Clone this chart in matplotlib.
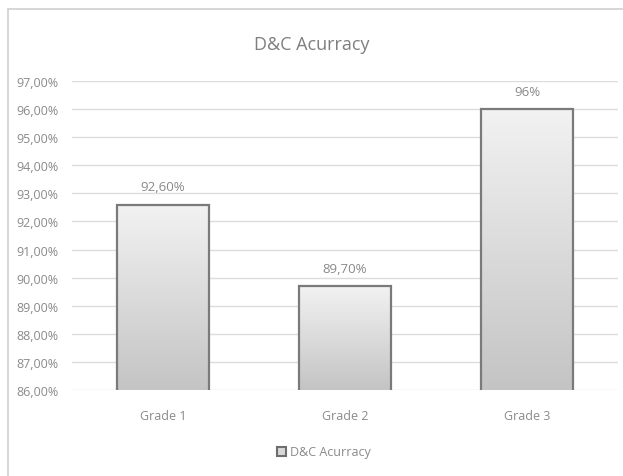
import numpy as np
import matplotlib.pyplot as plt
from matplotlib.patches import Rectangle
from matplotlib.ticker import FuncFormatter

categories = ["Grade 1", "Grade 2", "Grade 3"]
values = [92.6, 89.7, 96.0]
value_labels = ["92,60%", "89,70%", "96%"]
series_name = "D&C Acurracy"

plt.rcParams['font.family'] = ['Open Sans', 'DejaVu Sans']
txt = '#8a8a8a'

fig = plt.figure(figsize=(6.23, 4.77), dpi=100)
ax = fig.add_axes([0.1156, 0.1803, 0.8764, 0.6478])

# outer chart frame (left and top edges visible)
fig.patches.append(Rectangle((8 / 623, -0.1), 1.2, 1 - 10 / 477 + 0.1,
                             transform=fig.transFigure, fill=False,
                             edgecolor='#d0d0d0', linewidth=1.2))

x = np.arange(len(categories))
bars = ax.bar(x, values, width=0.505, bottom=0, color='none',
              edgecolor='#7a7a7a', linewidth=1.6, zorder=3,
              label=series_name)

# gradient fill for each bar
cmap = plt.matplotlib.colors.LinearSegmentedColormap.from_list('g', ['#c4c4c4', '#f2f2f2'])
grad = np.linspace(0, 1, 256).reshape(-1, 1)
for b in bars:
    x0, w = b.get_x(), b.get_width()
    im = ax.imshow(grad, cmap=cmap, origin='lower', aspect='auto',
                   extent=[x0, x0 + w, 86, b.get_height()], zorder=2)
    im.set_clip_path(b)

ax.set_xlim(-0.5, 2.5)
ax.set_ylim(86, 97)

for xi, v, lab in zip(x, values, value_labels):
    ax.annotate(lab, (xi, v), xytext=(0, 8), textcoords='offset points',
                ha='center', va='bottom', fontsize=9.5, color=txt)

ax.set_yticks(np.arange(86, 97.1, 1))
ax.yaxis.set_major_formatter(FuncFormatter(lambda v, p: f"{v:.2f}%".replace('.', ',')))
ax.set_xticks(x)
ax.set_xticklabels(categories)
ax.tick_params(axis='both', length=0, labelsize=9, colors=txt)
ax.tick_params(axis='x', pad=14)
ax.tick_params(axis='y', pad=10)
ax.grid(axis='y', color='#dcdcdc', linewidth=1, zorder=0)
ax.set_axisbelow(True)
for s in ax.spines.values():
    s.set_visible(False)

fig.text(0.5, 1 - 45 / 477, "D&C Acurracy", ha='center', va='center',
         fontsize=13, color='#7f7f7f')

leg_handle = Rectangle((0, 0), 1, 1, facecolor='#d8d8d8', edgecolor='#6e6e6e', linewidth=1.5)
fig.legend([leg_handle], [series_name], loc='center', bbox_to_anchor=(0.52, 1 - 453 / 477),
           frameon=False, fontsize=9, labelcolor=txt, handlelength=0.7,
           handleheight=0.7, handletextpad=0.3)

fig.savefig('out.png', dpi=100, facecolor='white')
